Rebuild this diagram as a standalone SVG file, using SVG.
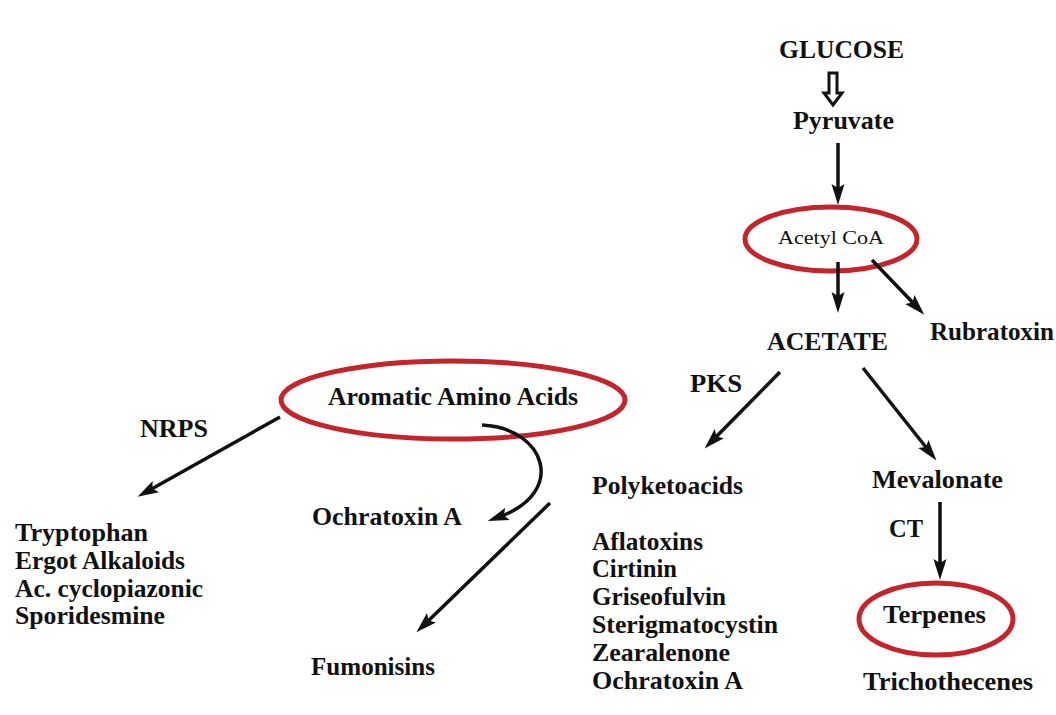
<svg xmlns="http://www.w3.org/2000/svg" width="1056" height="715" viewBox="0 0 1056 715">
<style>
text{font-family:"Liberation Serif","Times New Roman",serif;fill:#111;}
.b{font-weight:bold;font-size:25px;}
.r{font-size:19px;}
.ring{fill:none;stroke:#c4252c;stroke-width:5;}
.ln{fill:none;stroke:#111;stroke-width:3.5;}
</style>
<defs>
<marker id="ah" markerUnits="userSpaceOnUse" markerWidth="22" markerHeight="16" viewBox="0 0 22 16" refX="9" refY="8" orient="auto">
<path d="M0,1.5 L21,8 L0,14.5 L4,8 Z" fill="#111"/>
</marker>
</defs>
<rect width="1056" height="715" fill="#fff"/>

<g id="glucose"><text class="b" x="779" y="58" textLength="125" lengthAdjust="spacingAndGlyphs">GLUCOSE</text></g>
<g id="pyruvate"><text class="b" x="793" y="129" textLength="101" lengthAdjust="spacingAndGlyphs">Pyruvate</text></g>
<g id="acetylcoa">
<ellipse class="ring" cx="831" cy="239" rx="86" ry="32"/>
<text class="r" x="778" y="244" textLength="106" lengthAdjust="spacingAndGlyphs">Acetyl CoA</text>
</g>
<g id="acetate"><text class="b" x="767" y="350" textLength="121" lengthAdjust="spacingAndGlyphs">ACETATE</text></g>
<g id="rubratoxin"><text class="b" x="930" y="340" textLength="124" lengthAdjust="spacingAndGlyphs">Rubratoxin</text></g>
<g id="pks"><text class="b" x="690" y="392" textLength="52" lengthAdjust="spacingAndGlyphs">PKS</text></g>
<g id="polyketoacids"><text class="b" x="592" y="494" textLength="151" lengthAdjust="spacingAndGlyphs">Polyketoacids</text></g>
<g id="pk-list">
<text class="b" x="592" y="550" textLength="111" lengthAdjust="spacingAndGlyphs">Aflatoxins</text>
<text class="b" x="592" y="577" textLength="85" lengthAdjust="spacingAndGlyphs">Cirtinin</text>
<text class="b" x="592" y="605" textLength="134" lengthAdjust="spacingAndGlyphs">Griseofulvin</text>
<text class="b" x="592" y="633" textLength="186" lengthAdjust="spacingAndGlyphs">Sterigmatocystin</text>
<text class="b" x="592" y="661" textLength="138" lengthAdjust="spacingAndGlyphs">Zearalenone</text>
<text class="b" x="592" y="689" textLength="151" lengthAdjust="spacingAndGlyphs">Ochratoxin A</text>
</g>
<g id="mevalonate"><text class="b" x="872" y="488" textLength="131" lengthAdjust="spacingAndGlyphs">Mevalonate</text></g>
<g id="ct"><text class="b" x="889" y="537" textLength="34" lengthAdjust="spacingAndGlyphs">CT</text></g>
<g id="terpenes">
<ellipse class="ring" cx="936" cy="619" rx="77" ry="36"/>
<text class="b" x="883" y="623" textLength="103" lengthAdjust="spacingAndGlyphs">Terpenes</text>
</g>
<g id="trichothecenes"><text class="b" x="863" y="690" textLength="170" lengthAdjust="spacingAndGlyphs">Trichothecenes</text></g>
<g id="aromatic">
<ellipse class="ring" cx="453" cy="400" rx="172" ry="39"/>
<text class="b" x="328" y="405" textLength="250" lengthAdjust="spacingAndGlyphs">Aromatic Amino Acids</text>
</g>
<g id="nrps"><text class="b" x="140" y="437" textLength="68" lengthAdjust="spacingAndGlyphs">NRPS</text></g>
<g id="nrps-list">
<text class="b" x="15" y="541" textLength="133" lengthAdjust="spacingAndGlyphs">Tryptophan</text>
<text class="b" x="15" y="569" textLength="170" lengthAdjust="spacingAndGlyphs">Ergot Alkaloids</text>
<text class="b" x="15" y="597" textLength="188" lengthAdjust="spacingAndGlyphs">Ac. cyclopiazonic</text>
<text class="b" x="15" y="624" textLength="150" lengthAdjust="spacingAndGlyphs">Sporidesmine</text>
</g>
<g id="ochratoxin"><text class="b" x="312" y="525" textLength="150" lengthAdjust="spacingAndGlyphs">Ochratoxin A</text></g>
<g id="fumonisins"><text class="b" x="311" y="675" textLength="124" lengthAdjust="spacingAndGlyphs">Fumonisins</text></g>

<g id="connectors">
<polygon points="829,73 837,73 837,93 842,93 833,105 824,93 829,93" fill="#fff" stroke="#111" stroke-width="3" stroke-linejoin="miter"/>
<line class="ln" x1="838" y1="143" x2="838" y2="193" marker-end="url(#ah)"/>
<line class="ln" x1="838" y1="262" x2="838" y2="301" marker-end="url(#ah)"/>
<line class="ln" x1="872" y1="260" x2="916" y2="306" marker-end="url(#ah)"/>
<line class="ln" x1="780" y1="372" x2="713" y2="440" marker-end="url(#ah)"/>
<line class="ln" x1="863" y1="368" x2="929" y2="451" marker-end="url(#ah)"/>
<line class="ln" x1="940" y1="502" x2="940" y2="568" marker-end="url(#ah)"/>
<line class="ln" x1="280" y1="417" x2="148" y2="491" marker-end="url(#ah)"/>
<path class="ln" d="M482,425 C545,428 568,492 499,517" marker-end="url(#ah)"/>
<line class="ln" x1="550" y1="503" x2="425" y2="624" marker-end="url(#ah)"/>
</g>
</svg>
